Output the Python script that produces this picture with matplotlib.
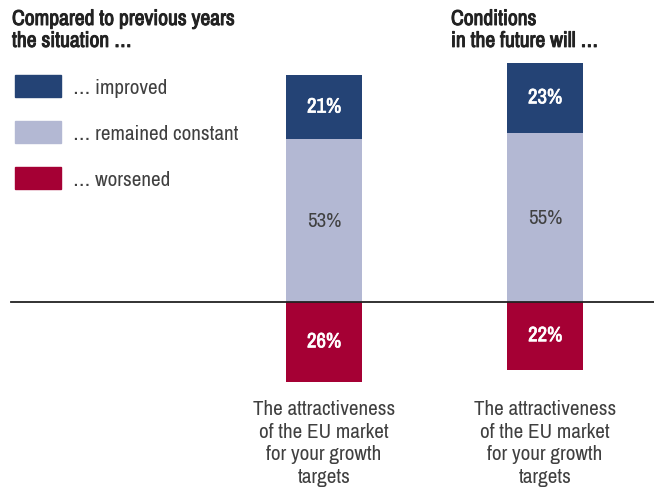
import matplotlib
matplotlib.use("Agg")
import matplotlib.pyplot as plt
import matplotlib.patheffects as pe
from matplotlib.patches import Rectangle

plt.rcParams['font.family'] = ['Archivo Narrow', 'DejaVu Sans']

# data
categories = ["The attractiveness\nof the EU market\nfor your growth\ntargets",
              "The attractiveness\nof the EU market\nfor your growth\ntargets"]
improved = [21, 23]
constant = [53, 55]
worsened = [26, 22]
titles = ["Compared to previous years\nthe situation \u2026", "Conditions\nin the future will \u2026"]
legend_labels = ["\u2026 improved", "\u2026 remained constant", "\u2026 worsened"]

c_imp = "#244375"
c_con = "#b3b8d3"
c_wor = "#a50034"
txt = "#404040"


def bold(col, lw=0.6):
    # fake bold for the narrow font (only regular weight is installed)
    return [pe.withStroke(linewidth=lw, foreground=col)]


fig = plt.figure(figsize=(6.54, 4.89), dpi=100)
ax = fig.add_axes([0, 0, 1, 1])
ax.set_xlim(-1.466, 1.493)
ax.set_ylim(-60.6, 98.7)
ax.axis("off")

x = [0, 1]
w = 0.344
neg = [-v for v in worsened]
ax.bar(x, constant, w, color=c_con)
ax.bar(x, improved, w, bottom=constant, color=c_imp)
ax.bar(x, neg, w, color=c_wor)
ax.plot([-1.416, 1.493], [0, 0], color="#222222", lw=1.3)

for i in x:
    ax.text(i, constant[i] + improved[i] / 2, f"{improved[i]}%", ha="center", va="center",
            color="white", fontsize=15, path_effects=bold("white", 0.5))
    ax.text(i, constant[i] / 2, f"{constant[i]}%", ha="center", va="center",
            color=txt, fontsize=15)
    ax.text(i, -worsened[i] / 2, f"{worsened[i]}%", ha="center", va="center",
            color="white", fontsize=15, path_effects=bold("white", 0.5))
    ax.text(i, -31.6, categories[i], ha="center", va="top", color=txt,
            fontsize=15.2, linespacing=1.24)

# titles
fig.text(12 / 654, 1 - 10 / 489, titles[0], ha="left", va="top", fontsize=15.5,
         color="#222222", linespacing=1.12, path_effects=bold("#222222", 0.7))
fig.text(451 / 654, 1 - 10 / 489, titles[1], ha="left", va="top", fontsize=15.5,
         color="#222222", linespacing=1.12, path_effects=bold("#222222", 0.7))

# legend
for k, (lab, col) in enumerate(zip(legend_labels, [c_imp, c_con, c_wor])):
    yc = 87 + k * 46
    fig.patches.append(Rectangle((15 / 654, 1 - (yc + 11) / 489), 46 / 654, 22 / 489,
                                 transform=fig.transFigure, color=col))
    fig.text(73 / 654, 1 - (yc + 2) / 489, lab, ha="left", va="center", fontsize=15.2, color=txt)

fig.savefig("out.png", dpi=100)
